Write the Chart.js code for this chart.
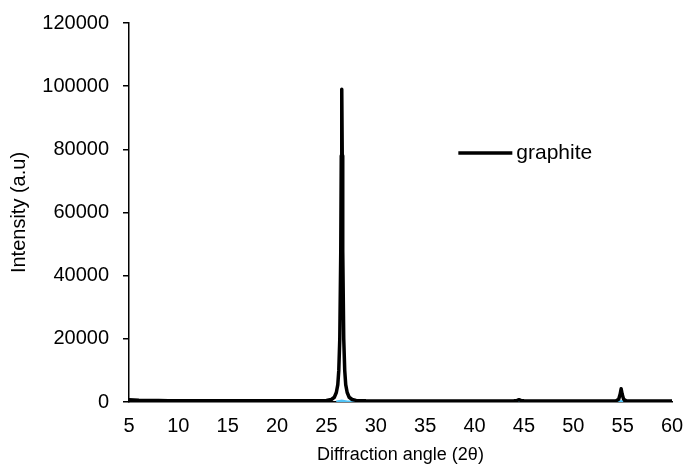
<!DOCTYPE html>
<html>
<head>
<meta charset="utf-8">
<script src="https://cdn.jsdelivr.net/npm/chart.js@4/dist/chart.umd.min.js"></script>
<style>
  html, body { margin: 0; padding: 0; background: #fff; }
  #wrap { width: 689px; height: 470px; }
</style>
</head>
<body>
<div id="wrap"><canvas id="c" width="689" height="470"></canvas></div>
<script>
// ---- data ----
const seriesName = "graphite";
const angles = [5, 5.5, 6, 7, 8, 9, 10, 11, 12, 13, 14, 15, 16, 17, 18, 19, 20, 21, 22, 23, 24, 25,
  25.5, 25.8, 26.0, 26.15, 26.25, 26.35, 26.45, 26.5, 26.55, 26.6, 26.65, 26.75, 26.85, 26.95, 27.1, 27.3, 27.6,
  28, 29, 30, 31, 32, 33, 34, 35, 36, 37, 38, 39, 40, 41, 42, 43, 44, 44.3, 44.5, 44.7, 45,
  46, 47, 48, 49, 50, 51, 52, 53, 54, 54.35, 54.6, 54.75, 54.85, 54.95, 55.1, 55.35, 55.6, 56, 57, 58, 59, 60];
const intensity = [700, 600, 520, 480, 450, 430, 420, 400, 400, 390, 380, 380, 370, 370, 360, 370, 360, 370, 380, 390, 400, 450,
  800, 1500, 3000, 5500, 10000, 20000, 48000, 78000, 99000, 78000, 48000, 20000, 10000, 5500, 3000, 1500, 800,
  500, 370, 350, 340, 330, 330, 320, 320, 310, 310, 300, 300, 300, 310, 320, 340, 380, 500, 700, 500, 380,
  320, 300, 300, 300, 290, 290, 300, 310, 340, 400, 900, 2500, 4200, 2500, 900, 400, 330, 300, 290, 280, 280, 280];
const blueAngles = [26.0, 26.3, 26.55, 26.8, 27.1, 54.65, 54.85, 55.05];
const blueValues = [0, 200, 300, 200, 0, 0, 150, 0];
const xTicks = [5, 10, 15, 20, 25, 30, 35, 40, 45, 50, 55, 60];
const yTicks = [0, 20000, 40000, 60000, 80000, 100000, 120000];

const mainPoints = angles.map((a, i) => ({ x: a, y: intensity[i] }));
const bluePoints = blueAngles.map((a, i) => ({ x: a, y: blueValues[i] }));

const FONT = "'Liberation Sans', Arial, sans-serif";

const insideLegend = {
  id: 'insideLegend',
  afterDatasetsDraw(chart) {
    const { ctx, chartArea: a } = chart;
    const ds = chart.data.datasets[0];
    const x0 = a.left + (a.right - a.left) * 0.6065;
    const y0 = a.top + (a.bottom - a.top) * 0.343;
    ctx.save();
    ctx.strokeStyle = ds.borderColor;
    ctx.lineWidth = 3.5;
    ctx.beginPath();
    ctx.moveTo(x0, y0);
    ctx.lineTo(x0 + 54, y0);
    ctx.stroke();
    ctx.fillStyle = '#000';
    ctx.font = '21px ' + FONT;
    ctx.textBaseline = 'middle';
    ctx.textAlign = 'left';
    ctx.fillText(ds.label, x0 + 58, y0);
    ctx.restore();
  }
};

new Chart(document.getElementById('c'), {
  type: 'scatter',
  data: {
    datasets: [
      {
        label: seriesName,
        data: mainPoints,
        showLine: true,
        borderColor: '#000000',
        backgroundColor: '#000000',
        borderWidth: 3.5,
        borderJoinStyle: 'round',
        borderCapStyle: 'round',
        pointRadius: 0,
        tension: 0,
        order: 1
      },
      {
        label: '',
        data: bluePoints,
        showLine: true,
        borderColor: '#4fc3f7',
        backgroundColor: '#4fc3f7',
        borderWidth: 3,
        pointRadius: 0,
        tension: 0,
        order: 2
      }
    ]
  },
  options: {
    responsive: false,
    animation: false,
    devicePixelRatio: 1,
    layout: { padding: { left: 5, top: 23, right: 17, bottom: 0 } },
    plugins: {
      legend: { display: false },
      tooltip: { enabled: false }
    },
    scales: {
      x: {
        type: 'linear',
        min: 5, max: 60,
        afterBuildTicks(scale) { scale.ticks = xTicks.map(v => ({ value: v })); },
        afterFit(scale) { scale.height = 68; scale.paddingLeft = 0; scale.paddingRight = 0; },
        grid: { drawOnChartArea: false, drawTicks: false },
        border: { display: true, color: '#000', width: 1.5 },
        ticks: { color: '#000', font: { family: FONT, size: 20 }, padding: 12, maxRotation: 0 },
        title: { display: true, text: 'Diffraction angle (2θ)', color: '#000', font: { family: FONT, size: 18 }, padding: { top: 3 } }
      },
      y: {
        min: 0, max: 120000,
        afterBuildTicks(scale) { scale.ticks = yTicks.map(v => ({ value: v })); },
        afterFit(scale) { scale.width = 124; scale.paddingTop = 0; scale.paddingBottom = 0; },
        grid: { drawOnChartArea: false, drawTicks: true, tickLength: 6, color: '#000', lineWidth: 1.5 },
        border: { display: true, color: '#000', width: 1.5 },
        ticks: { color: '#000', font: { family: FONT, size: 20 }, padding: 14, callback: v => String(v) },
        title: { display: true, text: 'Intensity (a.u)', color: '#000', font: { family: FONT, size: 20 }, padding: 2 }
      }
    }
  },
  plugins: [insideLegend]
});
</script>
</body>
</html>
